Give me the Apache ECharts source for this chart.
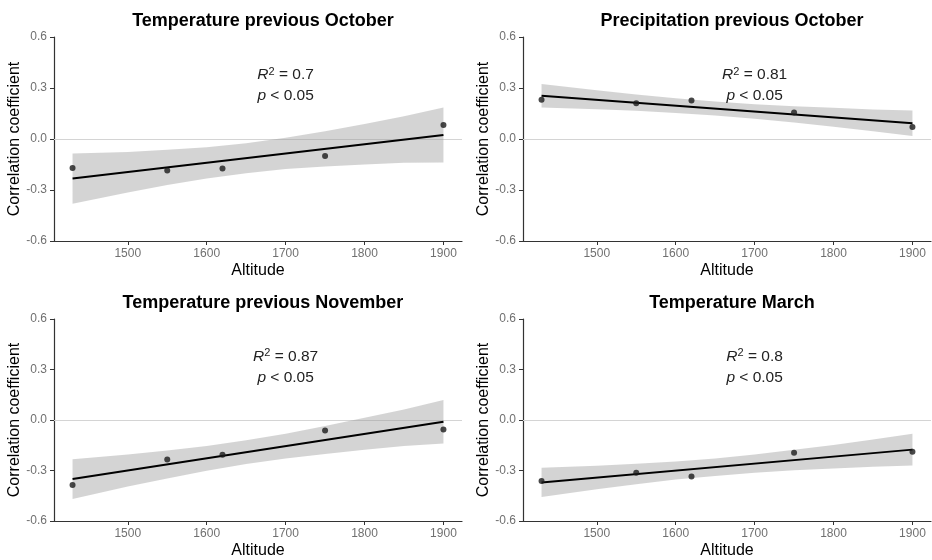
<!DOCTYPE html>
<html>
<head>
<meta charset="utf-8">
<script src="https://cdn.jsdelivr.net/npm/echarts@6/dist/echarts.min.js"></script>
<style>html,body{margin:0;padding:0;background:#fff}#c{width:932px;height:560px}</style>
</head>
<body>
<div id="c"></div>
<script>
// ---------- data ----------
const altitudes = [1430, 1550, 1620, 1750, 1900];
const xTicks = [1500, 1600, 1700, 1800, 1900];
const yTicks = [-0.6, -0.3, 0.0, 0.3, 0.6];
const panelTitles = ['Temperature previous October', 'Precipitation previous October',
                     'Temperature previous November', 'Temperature March'];
const r2Values = ['0.7', '0.81', '0.87', '0.8'];
const pText = '0.05';

// observed correlation coefficients
const pts_TempPrevOct = [-0.170, -0.185, -0.173, -0.100, 0.083];
const pts_PrecPrevOct = [0.231, 0.211, 0.227, 0.156, 0.071];
const pts_TempPrevNov = [-0.386, -0.235, -0.206, -0.063, -0.057];
const pts_TempMar     = [-0.363, -0.314, -0.335, -0.194, -0.188];

// fitted line end points (at 1430 and 1900)
const fitX = [1430, 1900];
const fit_TempPrevOct = [-0.233, 0.024];
const fit_PrecPrevOct = [0.255, 0.093];
const fit_TempPrevNov = [-0.351, -0.010];
const fit_TempMar     = [-0.371, -0.176];

// confidence band
const bandX = [1430, 1500, 1550, 1600, 1650, 1700, 1750, 1800, 1850, 1900];
const up_TempPrevOct  = [-0.085, -0.076, -0.063, -0.048, -0.025, 0.007, 0.046, 0.088, 0.134, 0.186];
const lo_TempPrevOct  = [-0.381, -0.314, -0.271, -0.232, -0.201, -0.177, -0.162, -0.150, -0.140, -0.138];
const up_PrecPrevOct  = [0.324, 0.287, 0.262, 0.239, 0.220, 0.205, 0.193, 0.184, 0.174, 0.168];
const lo_PrecPrevOct  = [0.186, 0.175, 0.166, 0.153, 0.138, 0.119, 0.097, 0.072, 0.046, 0.018];
const up_TempPrevNov  = [-0.233, -0.205, -0.181, -0.155, -0.121, -0.082, -0.036, 0.013, 0.063, 0.119];
const lo_TempPrevNov  = [-0.469, -0.395, -0.347, -0.301, -0.261, -0.228, -0.202, -0.177, -0.155, -0.139];
const up_TempMar      = [-0.284, -0.272, -0.260, -0.246, -0.228, -0.205, -0.177, -0.148, -0.116, -0.081];
const lo_TempMar      = [-0.458, -0.412, -0.382, -0.354, -0.332, -0.313, -0.299, -0.288, -0.278, -0.271];

// ---------- build ----------
const panels = [
  {pts: pts_TempPrevOct, fit: fit_TempPrevOct, up: up_TempPrevOct, lo: lo_TempPrevOct},
  {pts: pts_PrecPrevOct, fit: fit_PrecPrevOct, up: up_PrecPrevOct, lo: lo_PrecPrevOct},
  {pts: pts_TempPrevNov, fit: fit_TempPrevNov, up: up_TempPrevNov, lo: lo_TempPrevNov},
  {pts: pts_TempMar,     fit: fit_TempMar,     up: up_TempMar,     lo: lo_TempMar}
];

const FONT = '"Liberation Sans", Arial, Helvetica, sans-serif';
const gridPos = [
  {left: 54,  top: 37,  width: 408, height: 204},
  {left: 523, top: 37,  width: 408, height: 204},
  {left: 54,  top: 319, width: 408, height: 204},
  {left: 523, top: 319, width: 408, height: 204}
];
const xMin = 1406.5, xMax = 1923.5;
const axisCol = '#333333';
const tickLabelCol = '#707070';
const annCol = '#222222';

const grids = [], xAxes = [], yAxes = [], titles = [], series = [];

panels.forEach((p, i) => {
  const g = gridPos[i];
  grids.push(Object.assign({containLabel: false}, g));
  titles.push({
    text: panelTitles[i],
    left: g.left + g.width / 2,
    top: g.top - 30,
    textAlign: 'center',
    textStyle: {fontFamily: FONT, fontSize: 18, fontWeight: 'bold', color: '#000'}
  });
  xAxes.push({
    type: 'value', gridIndex: i, min: xMin, max: xMax,
    name: 'Altitude', nameLocation: 'middle', nameGap: 22,
    nameTextStyle: {fontFamily: FONT, fontSize: 16, color: '#000'},
    axisLine: {show: true, onZero: false, lineStyle: {color: axisCol, width: 1.2}},
    axisTick: {show: true, length: 4, customValues: xTicks, lineStyle: {color: axisCol, width: 1}},
    axisLabel: {fontFamily: FONT, fontSize: 12, color: tickLabelCol, margin: 7, customValues: xTicks,
                formatter: v => String(v)},
    splitLine: {show: false}
  });
  yAxes.push({
    type: 'value', gridIndex: i, min: -0.6, max: 0.6,
    name: 'Correlation coefficient', nameLocation: 'middle', nameGap: 28,
    nameTextStyle: {fontFamily: FONT, fontSize: 16, color: '#000'},
    axisLine: {show: true, onZero: false, lineStyle: {color: axisCol, width: 1.2}},
    axisTick: {show: true, length: 4, customValues: yTicks, lineStyle: {color: axisCol, width: 1}},
    axisLabel: {fontFamily: FONT, fontSize: 12, color: tickLabelCol, margin: 7, customValues: yTicks,
                formatter: v => Number(v).toFixed(1)},
    splitLine: {show: false}
  });

  // zero reference line
  series.push({
    type: 'line', xAxisIndex: i, yAxisIndex: i, data: [], z: 1, silent: true,
    markLine: {
      silent: true, symbol: 'none', z: 1, label: {show: false},
      lineStyle: {color: '#d4d4d4', width: 1, type: 'solid'},
      data: [{yAxis: 0}]
    }
  });

  // confidence band
  series.push({
    type: 'custom', xAxisIndex: i, yAxisIndex: i, z: 2, silent: true,
    data: [[bandX[0], p.lo[0]]],
    renderItem: (params, api) => {
      const pts = [];
      for (let k = 0; k < bandX.length; k++) pts.push(api.coord([bandX[k], p.up[k]]));
      for (let k = bandX.length - 1; k >= 0; k--) pts.push(api.coord([bandX[k], p.lo[k]]));
      return {type: 'polygon', shape: {points: pts}, style: {fill: 'rgba(153,153,153,0.42)', stroke: 'none'}};
    }
  });

  // fitted line + annotation
  series.push({
    type: 'line', xAxisIndex: i, yAxisIndex: i, z: 3, silent: true,
    data: fitX.map((x, k) => [x, p.fit[k]]),
    symbol: 'none',
    lineStyle: {color: '#000', width: 2},
    markPoint: {
      symbol: 'circle', symbolSize: 0, silent: true,
      label: {
        show: true, position: 'inside', fontFamily: FONT, fontSize: 15.5, color: annCol,
        rich: {
          i: {fontFamily: FONT, fontSize: 15.5, fontStyle: 'italic', color: annCol},
          s: {fontFamily: FONT, fontSize: 11, color: annCol, verticalAlign: 'top', padding: [0, 0, 6, 0]},
          n: {fontFamily: FONT, fontSize: 15.5, color: annCol}
        }
      },
      data: [
        {coord: [1700, 0.378], label: {formatter: '{i|R}{s|2}{n| = ' + r2Values[i] + '}'}},
        {coord: [1700, 0.252], label: {formatter: '{i|p}{n| < ' + pText + '}'}}
      ]
    }
  });

  // observed points
  series.push({
    type: 'scatter', xAxisIndex: i, yAxisIndex: i, z: 4, silent: true,
    data: altitudes.map((x, k) => [x, p.pts[k]]),
    symbolSize: 6,
    itemStyle: {color: '#1a1a1a'}
  });
});

const chart = echarts.init(document.getElementById('c'), null, {renderer: 'canvas'});
chart.setOption({
  animation: false,
  backgroundColor: '#fff',
  title: titles,
  grid: grids,
  xAxis: xAxes,
  yAxis: yAxes,
  series: series
});
</script>
</body>
</html>
